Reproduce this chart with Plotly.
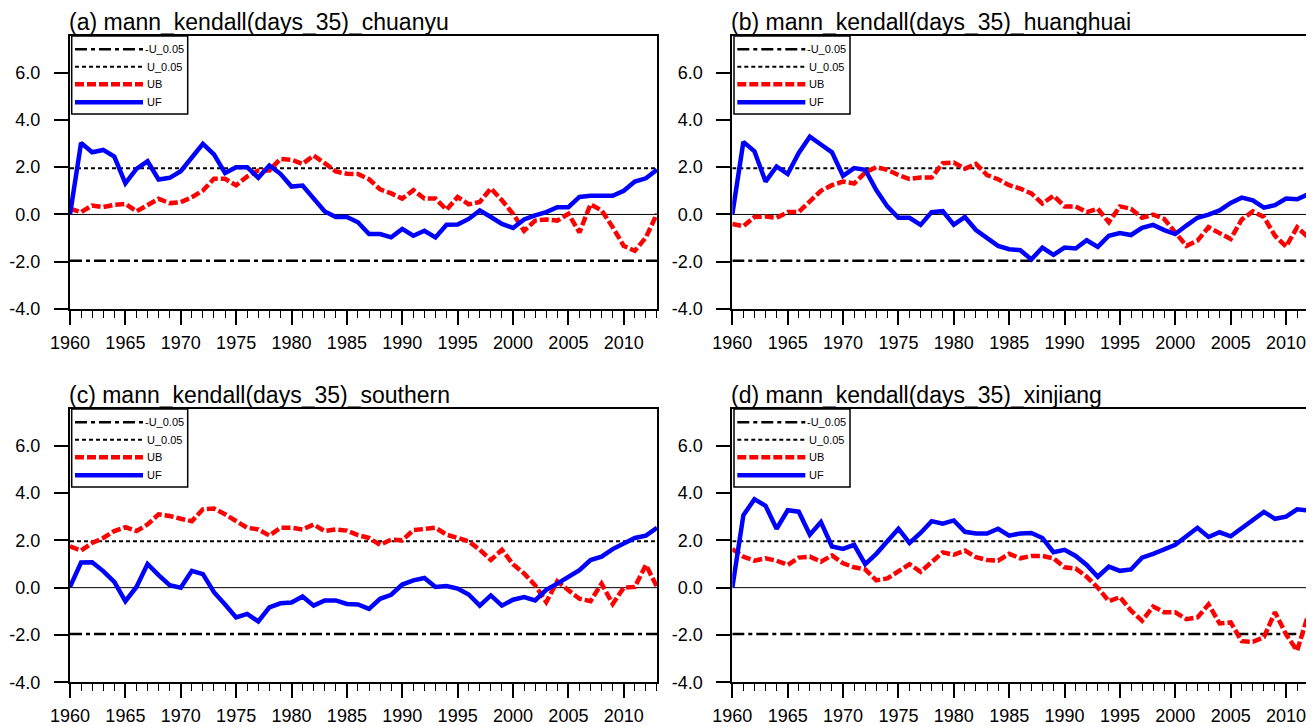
import plotly.graph_objects as go

years = list(range(1960, 2014))

titles = ["(a) mann_kendall(days_35)_chuanyu",
          "(b) mann_kendall(days_35)_huanghuai",
          "(c) mann_kendall(days_35)_southern",
          "(d) mann_kendall(days_35)_xinjiang"]

uf_chuanyu = [0.0, 3.03, 2.63, 2.73, 2.45, 1.32, 1.93, 2.25, 1.48, 1.55, 1.83, 2.39, 2.99, 2.54,
              1.75, 2.0, 2.0, 1.55, 2.07, 1.72, 1.18, 1.22, 0.66, 0.13, -0.11, -0.11, -0.33, -0.83,
              -0.83, -0.97, -0.61, -0.9, -0.69, -0.97, -0.44, -0.43, -0.19, 0.17, -0.11, -0.4, -0.57,
              -0.21, -0.04, 0.1, 0.31, 0.31, 0.74, 0.79, 0.79, 0.79, 1.0, 1.39, 1.53, 1.89]
ub_chuanyu = [0.24, 0.1, 0.38, 0.31, 0.41, 0.45, 0.13, 0.41, 0.66, 0.48, 0.52, 0.73, 1.01, 1.51,
              1.51, 1.23, 1.61, 1.86, 1.86, 2.35, 2.31, 2.14, 2.49, 2.17, 1.82, 1.72, 1.71, 1.49,
              1.06, 0.89, 0.67, 1.03, 0.67, 0.67, 0.2, 0.74, 0.43, 0.53, 1.1, 0.6, 0.03, -0.69,
              -0.26, -0.21, -0.26, 0.03, -0.76, 0.43, 0.17, -0.54, -1.33, -1.54, -0.97, 0.03]

uf_huanghuai = [0.0, 3.07, 2.67, 1.39, 2.03, 1.71, 2.6, 3.29, 2.96, 2.63, 1.63, 1.96, 1.89, 1.03,
                0.34, -0.14, -0.14, -0.44, 0.1, 0.14, -0.43, -0.11, -0.66, -0.97, -1.33, -1.47, -1.51,
                -1.9, -1.4, -1.71, -1.4, -1.44, -1.09, -1.37, -0.9, -0.79, -0.87, -0.57, -0.44, -0.66,
                -0.83, -0.47, -0.14, -0.01, 0.17, 0.49, 0.71, 0.6, 0.29, 0.39, 0.67, 0.64, 0.86, 1.08]
ub_huanghuai = [-0.4, -0.5, -0.11, -0.09, -0.14, 0.1, 0.1, 0.53, 1.0, 1.24, 1.39, 1.31, 1.77, 2.0,
                1.89, 1.67, 1.5, 1.56, 1.56, 2.17, 2.2, 1.93, 2.14, 1.67, 1.49, 1.24, 1.09, 0.89,
                0.46, 0.79, 0.34, 0.34, 0.1, 0.24, -0.33, 0.34, 0.24, -0.14, -0.01, -0.19, -0.76,
                -1.33, -1.11, -0.54, -0.79, -1.04, -0.21, 0.13, -0.11, -0.9, -1.36, -0.54, -0.97, 0.0]

uf_southern = [0.03, 1.06, 1.07, 0.7, 0.24, -0.57, 0.03, 1.0, 0.53, 0.1, 0.0, 0.71, 0.57, -0.19,
               -0.71, -1.26, -1.11, -1.43, -0.83, -0.66, -0.63, -0.37, -0.76, -0.54, -0.54, -0.69,
               -0.71, -0.9, -0.47, -0.3, 0.13, 0.31, 0.41, 0.03, 0.07, -0.04, -0.29, -0.76, -0.33,
               -0.76, -0.51, -0.4, -0.54, -0.09, 0.17, 0.46, 0.74, 1.17, 1.31, 1.63, 1.86, 2.1, 2.2, 2.53]
ub_southern = [1.74, 1.57, 1.89, 2.1, 2.39, 2.56, 2.39, 2.67, 3.1, 3.03, 2.91, 2.81, 3.31, 3.34,
               3.1, 2.81, 2.53, 2.46, 2.2, 2.53, 2.53, 2.46, 2.67, 2.39, 2.46, 2.41, 2.22, 2.1,
               1.81, 2.03, 2.0, 2.43, 2.49, 2.53, 2.24, 2.1, 1.96, 1.6, 1.17, 1.6, 0.99, 0.6, 0.1,
               -0.61, 0.27, -0.11, -0.47, -0.57, 0.17, -0.69, 0.0, 0.03, 0.96, 0.03]

uf_xinjiang = [0.0, 3.06, 3.74, 3.46, 2.49, 3.27, 3.21, 2.24, 2.77, 1.74, 1.64, 1.81, 0.99, 1.43,
               1.96, 2.49, 1.89, 2.31, 2.81, 2.7, 2.84, 2.36, 2.29, 2.29, 2.49, 2.2, 2.29, 2.31,
               2.1, 1.5, 1.6, 1.34, 0.96, 0.46, 0.89, 0.71, 0.77, 1.27, 1.43, 1.64, 1.81, 2.17,
               2.53, 2.14, 2.34, 2.17, 2.53, 2.86, 3.2, 2.91, 3.0, 3.31, 3.24, 3.22]
ub_xinjiang = [1.63, 1.31, 1.14, 1.24, 1.14, 0.96, 1.27, 1.31, 1.1, 1.36, 1.03, 0.86, 0.77, 0.31,
               0.39, 0.67, 0.99, 0.67, 1.06, 1.49, 1.39, 1.57, 1.29, 1.17, 1.14, 1.43, 1.24, 1.34,
               1.34, 1.24, 0.86, 0.81, 0.46, 0.0, -0.57, -0.4, -0.97, -1.4, -0.8, -1.04, -1.04,
               -1.33, -1.26, -0.71, -1.51, -1.47, -2.26, -2.29, -2.09, -1.04, -1.97, -2.66, -1.15, 0.05]

uf_all = [uf_chuanyu, uf_huanghuai, uf_southern, uf_xinjiang]
ub_all = [ub_chuanyu, ub_huanghuai, ub_southern, ub_xinjiang]

u_crit = 1.96
legend_labels = ["-U_0.05", "U_0.05", "UB", "UF"]
x_tickvals = list(range(1960, 2015, 5))
y_tickvals = [-4, -2, 0, 2, 4, 6]

# the page body has an 8px margin; size the figure so it fills the 1314x726 window
OFF = 8
W, H = 1314 - OFF, 726 - OFF
# panel pixel boxes in window coordinates: left, right, top, bottom
boxes = [(70, 657, 36, 309), (732.3, 1314, 36, 309),
         (70, 657, 409, 682.3), (732.3, 1314, 409, 682.3)]
year_px = 11.075

fig = go.Figure()
FONT = "Liberation Sans, Arial, Helvetica, sans-serif"

def px(x):
    return (x - OFF) / W

def py(y):
    return 1 - (y - OFF) / H

for i in range(4):
    L, R, T, B = boxes[i]
    n = i + 1
    xa = "x" if n == 1 else f"x{n}"
    ya = "y" if n == 1 else f"y{n}"
    xmax = 1960 + (R - L) / year_px
    right_cut = R >= 1313.5

    # reference lines
    fig.add_trace(go.Scatter(x=[1960, 2013], y=[0, 0], mode="lines",
                             line=dict(color="black", width=1), xaxis=xa, yaxis=ya,
                             showlegend=False, hoverinfo="skip"))
    fig.add_trace(go.Scatter(x=[1960, 2013], y=[-u_crit, -u_crit], mode="lines",
                             line=dict(color="black", width=2.5, dash="12px,4px,4px,4px"),
                             xaxis=xa, yaxis=ya, showlegend=False, hoverinfo="skip"))
    fig.add_trace(go.Scatter(x=[1960, 2013], y=[u_crit, u_crit], mode="lines",
                             line=dict(color="black", width=2, dash="4px,3px"),
                             xaxis=xa, yaxis=ya, showlegend=False, hoverinfo="skip"))
    fig.add_trace(go.Scatter(x=years, y=ub_all[i], mode="lines",
                             line=dict(color="#ff0000", width=4.5, dash="9px,3px"),
                             xaxis=xa, yaxis=ya, showlegend=False, name="UB"))
    fig.add_trace(go.Scatter(x=years, y=uf_all[i], mode="lines",
                             line=dict(color="#0000ff", width=4.5),
                             xaxis=xa, yaxis=ya, showlegend=False, name="UF"))

    xkey = "xaxis" if n == 1 else f"xaxis{n}"
    ykey = "yaxis" if n == 1 else f"yaxis{n}"
    fig.update_layout(**{
        xkey: dict(domain=[px(L), min(1.0, px(R))], range=[1960, xmax], anchor=ya,
                   automargin=False,
                   tickvals=x_tickvals, ticktext=[str(v) for v in x_tickvals],
                   ticks="outside", ticklen=14, tickwidth=2, tickcolor="black",
                   minor=dict(dtick=1, tick0=1960, ticks="outside", ticklen=7,
                              tickwidth=1, tickcolor="black", showgrid=False),
                   showline=True, linewidth=2, linecolor="black", mirror=True,
                   showgrid=False, zeroline=False, ticklabelstandoff=2,
                   tickfont=dict(family=FONT, size=18, color="black")),
        ykey: dict(domain=[py(B), py(T)], range=[-4, 7.55], anchor=xa,
                   automargin=False,
                   tickvals=y_tickvals, ticktext=[f"{v:.1f}" for v in y_tickvals],
                   ticks="outside", ticklen=14, tickwidth=2, tickcolor="black",
                   showline=True, linewidth=2, linecolor="black",
                   mirror=(not right_cut),
                   showgrid=False, zeroline=False, ticklabelstandoff=10,
                   tickfont=dict(family=FONT, size=18, color="black")),
    })

    # title
    fig.add_annotation(x=px(L - 2), y=py(T - 14), xref="paper", yref="paper",
                       text=titles[i], showarrow=False, xanchor="left", yanchor="middle",
                       borderpad=0,
                       font=dict(family=FONT, size=23, color="black"))

    # legend box
    fig.add_shape(type="rect", xref="paper", yref="paper",
                  x0=px(L + 1.7), x1=px(L + 117.7), y0=py(T + 78), y1=py(T),
                  line=dict(color="black", width=1.5), fillcolor="white", layer="above")
    styles = [dict(color="black", width=2.5, dash="12px,4px,4px,4px"),
              dict(color="black", width=2, dash="4px,3px"),
              dict(color="#ff0000", width=4.5, dash="9px,3px"),
              dict(color="#0000ff", width=4.5)]
    offs = [13.3, 30.7, 48.3, 66.3]
    for k in range(4):
        yy = py(T + offs[k])
        fig.add_shape(type="line", xref="paper", yref="paper",
                      x0=px(L + 5), x1=px(L + 73), y0=yy, y1=yy,
                      line=styles[k], layer="above")
        fig.add_annotation(x=px(L + 73 + (0 if k == 0 else 2)), y=yy, xref="paper", yref="paper",
                           text=legend_labels[k], showarrow=False, xanchor="left",
                           yanchor="middle",
                           font=dict(family=FONT, size=11, color="black"))

fig.update_layout(width=W, height=H, margin=dict(l=0, r=0, t=0, b=0, autoexpand=False),
                  paper_bgcolor="white", plot_bgcolor="white", showlegend=False)

fig.write_html("out.html")
